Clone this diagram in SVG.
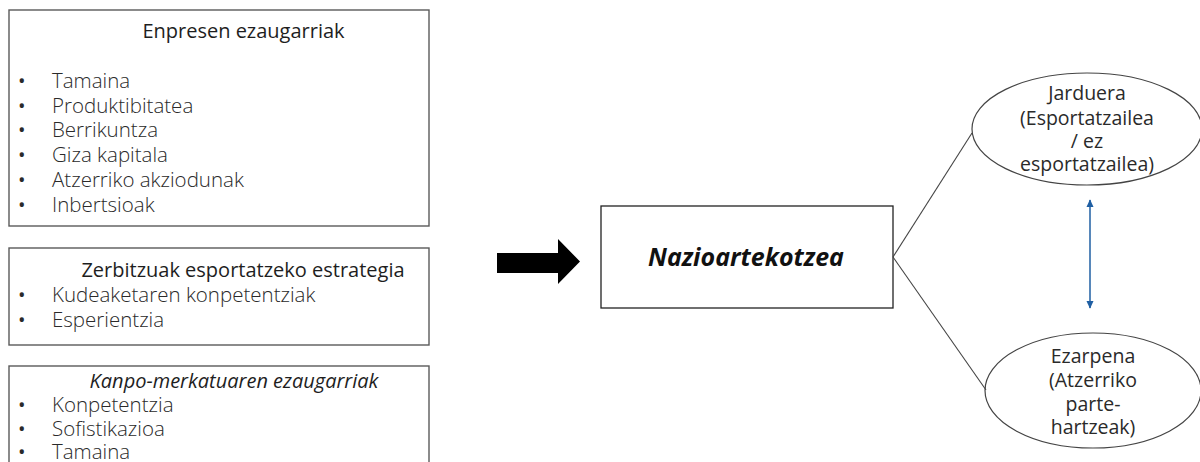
<svg xmlns="http://www.w3.org/2000/svg" width="1200" height="462" viewBox="0 0 1200 462">
<style>
.box{fill:#fff;stroke:#5a5a5a;stroke-width:1.4}
.cbox{fill:#fff;stroke:#222;stroke-width:1.3}
.ell{fill:#fff;stroke:#444;stroke-width:1.2}
.t{font-family:"Open Sans","Liberation Sans",sans-serif;font-size:20px;fill:#1e1e1e}
.li{font-family:"Open Sans","Liberation Sans",sans-serif;font-size:20.5px;font-weight:300;fill:#2a2a2a}
.bu{font-family:"Open Sans","Liberation Sans",sans-serif;font-size:20px;fill:#2a2a2a}
.et{font-family:"Open Sans","Liberation Sans",sans-serif;font-size:19.5px;fill:#2a2a2a;text-anchor:middle}
.conn{stroke:#444;stroke-width:1.1;fill:none}
</style>
<defs>
<marker id="ah" viewBox="0 0 10 10" refX="9" refY="5" markerWidth="8" markerHeight="8" orient="auto-start-reverse" markerUnits="userSpaceOnUse">
<path d="M0,0.5 L10,5 L0,9.5 z" fill="#1f5fa3"/>
</marker>
</defs>
<rect width="1200" height="462" fill="#fff"/>
<g id="node-enpresen">
<rect class="box" x="9" y="10" width="420" height="216"/>
<text class="t" x="243.5" y="38" text-anchor="middle">Enpresen ezaugarriak</text>
<g class="bu">
<text x="18" y="88">•</text><text x="18" y="113">•</text><text x="18" y="137">•</text><text x="18" y="162">•</text><text x="18" y="187">•</text><text x="18" y="212">•</text>
</g>
<g class="li">
<text x="52" y="88">Tamaina</text>
<text x="52" y="113">Produktibitatea</text>
<text x="52" y="137">Berrikuntza</text>
<text x="52" y="162">Giza kapitala</text>
<text x="52" y="187">Atzerriko akziodunak</text>
<text x="52" y="212">Inbertsioak</text>
</g>
</g>
<g id="node-zerbitzuak">
<rect class="box" x="9" y="248" width="420" height="97"/>
<text class="t" x="243" y="277" text-anchor="middle">Zerbitzuak esportatzeko estrategia</text>
<g class="bu"><text x="18" y="302">•</text><text x="18" y="327">•</text></g>
<g class="li">
<text x="52" y="302">Kudeaketaren konpetentziak</text>
<text x="52" y="327">Esperientzia</text>
</g>
</g>
<g id="node-kanpo">
<rect class="box" x="9" y="366" width="420" height="110"/>
<text class="t" x="234" y="388" text-anchor="middle" font-style="italic">Kanpo-merkatuaren ezaugarriak</text>
<g class="bu"><text x="18" y="412">•</text><text x="18" y="436">•</text><text x="18" y="459">•</text></g>
<g class="li">
<text x="52" y="412">Konpetentzia</text>
<text x="52" y="436">Sofistikazioa</text>
<text x="52" y="459">Tamaina</text>
</g>
</g>
<g id="node-nazio">
<rect class="cbox" x="601" y="206" width="292" height="102"/>
<text x="746" y="266" text-anchor="middle" font-family="'Open Sans','Liberation Sans',sans-serif" font-size="25" font-weight="bold" font-style="italic" fill="#111">Nazioartekotzea</text>
</g>
<g id="node-jarduera">
<ellipse class="ell" cx="1087" cy="129" rx="115" ry="56"/>
<text class="et" x="1087" y="100">Jarduera</text>
<text class="et" x="1087" y="125">(Esportatzailea</text>
<text class="et" x="1087" y="148">/ ez</text>
<text class="et" x="1087" y="171">esportatzailea)</text>
</g>
<g id="node-ezarpena">
<ellipse class="ell" cx="1093" cy="390.5" rx="108" ry="57.5"/>
<text class="et" x="1093" y="363">Ezarpena</text>
<text class="et" x="1093" y="387">(Atzerriko</text>
<text class="et" x="1093" y="411">parte-</text>
<text class="et" x="1093" y="434">hartzeak)</text>
</g>
<g id="connectors">
<path d="M497,253 H558 V239 L580,261.5 L558,284 V273 H497 Z" fill="#000"/>
<line class="conn" x1="893" y1="257" x2="972" y2="133"/>
<line class="conn" x1="893" y1="257" x2="986" y2="390"/>
<line x1="1090" y1="200" x2="1090" y2="308" stroke="#1f5fa3" stroke-width="1.5" marker-start="url(#ah)" marker-end="url(#ah)"/>
</g>
</svg>
